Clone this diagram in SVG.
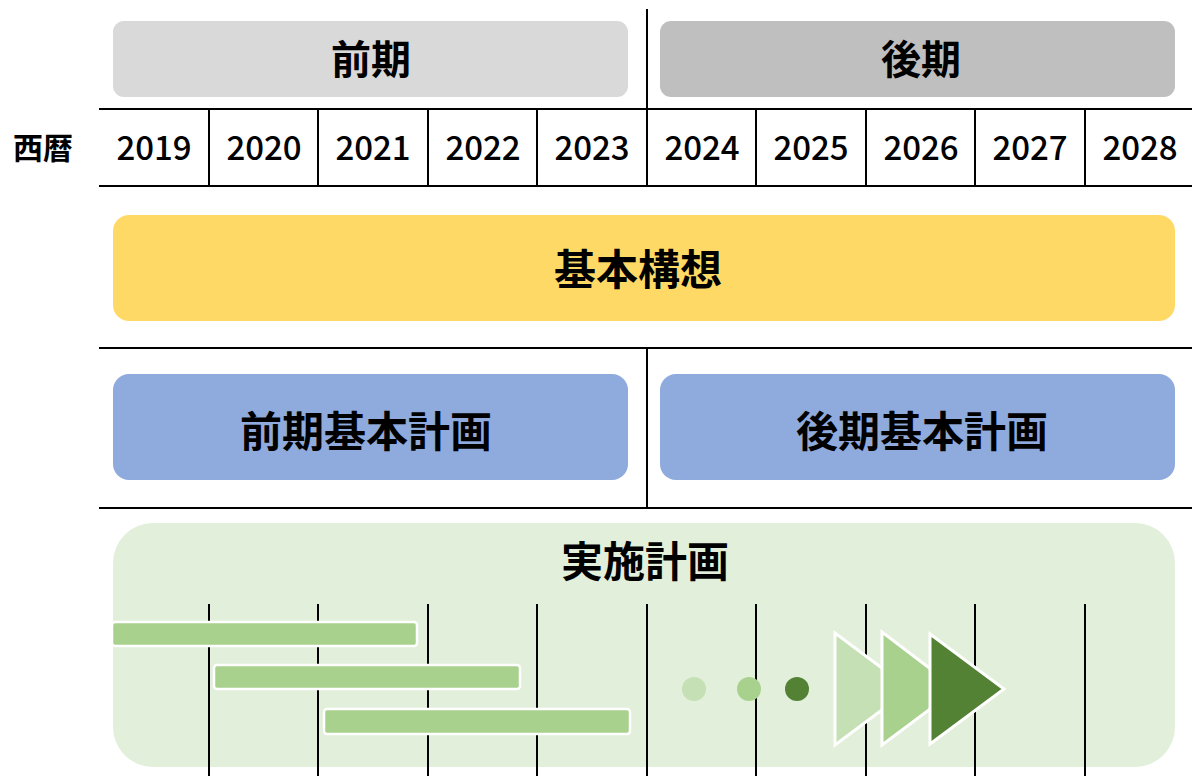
<svg xmlns="http://www.w3.org/2000/svg" width="1192" height="776" viewBox="0 0 1192 776">
<style>
.t{font-family:"Noto Sans CJK JP","Noto Sans",sans-serif;font-weight:bold;fill:#000;text-anchor:middle;dominant-baseline:central}
.y{font-family:"Noto Sans CJK JP","Noto Sans",sans-serif;font-size:33px;font-weight:500;fill:#000;text-anchor:middle;dominant-baseline:central}
.ln{stroke:#000;stroke-width:2;fill:none}
.bar{fill:#a9d18e;stroke:#fff;stroke-width:2.5}
.tri{stroke:#fff;stroke-width:3;stroke-linejoin:miter}
</style>
<rect width="1192" height="776" fill="#fff"/>
<g id="grid" class="ln">
<line x1="99" y1="109" x2="1192" y2="109"/>
<line x1="99" y1="186" x2="1192" y2="186"/>
<line x1="647" y1="9" x2="647" y2="186"/>
<line x1="209" y1="109" x2="209" y2="186"/>
<line x1="318" y1="109" x2="318" y2="186"/>
<line x1="428" y1="109" x2="428" y2="186"/>
<line x1="537" y1="109" x2="537" y2="186"/>
<line x1="756" y1="109" x2="756" y2="186"/>
<line x1="866" y1="109" x2="866" y2="186"/>
<line x1="975" y1="109" x2="975" y2="186"/>
<line x1="1085" y1="109" x2="1085" y2="186"/>
<line x1="99" y1="348" x2="1192" y2="348"/>
<line x1="99" y1="508" x2="1192" y2="508"/>
<line x1="647" y1="348" x2="647" y2="508"/>
</g>
<g id="zenki"><rect x="113" y="21" width="515" height="76" rx="11" fill="#d9d9d9"/><text class="t" x="371" y="57" font-size="40">前期</text></g>
<g id="kouki"><rect x="660" y="21" width="515" height="76" rx="11" fill="#bfbfbf"/><text class="t" x="921" y="57" font-size="40">後期</text></g>
<g id="years">
<text class="t" x="43" y="146" font-size="30">西暦</text>
<text class="y" x="154" y="146">2019</text>
<text class="y" x="264" y="146">2020</text>
<text class="y" x="373" y="146">2021</text>
<text class="y" x="483" y="146">2022</text>
<text class="y" x="592" y="146">2023</text>
<text class="y" x="702" y="146">2024</text>
<text class="y" x="811" y="146">2025</text>
<text class="y" x="921" y="146">2026</text>
<text class="y" x="1030" y="146">2027</text>
<text class="y" x="1140" y="146">2028</text>
</g>
<g id="kihonkousou"><rect x="113" y="215" width="1062" height="106" rx="16" fill="#ffd966"/><text class="t" x="638" y="266" font-size="42">基本構想</text></g>
<g id="zenki-keikaku"><rect x="113" y="374" width="515" height="106" rx="16" fill="#8faadc"/><text class="t" x="366" y="428" font-size="42">前期基本計画</text></g>
<g id="kouki-keikaku"><rect x="660" y="374" width="515" height="106" rx="16" fill="#8faadc"/><text class="t" x="922" y="428" font-size="42">後期基本計画</text></g>
<g id="jisshi">
<rect x="113" y="523" width="1062" height="244" rx="40" fill="#e2efda"/>
<text class="t" x="645" y="558" font-size="42">実施計画</text>
<g class="ln">
<line x1="209" y1="604" x2="209" y2="776"/>
<line x1="318" y1="604" x2="318" y2="776"/>
<line x1="428" y1="604" x2="428" y2="776"/>
<line x1="537" y1="604" x2="537" y2="776"/>
<line x1="647" y1="604" x2="647" y2="776"/>
<line x1="756" y1="604" x2="756" y2="776"/>
<line x1="866" y1="604" x2="866" y2="776"/>
<line x1="975" y1="604" x2="975" y2="776"/>
<line x1="1085" y1="604" x2="1085" y2="776"/>
</g>
<rect class="bar" x="112" y="622" width="305" height="24" rx="3"/>
<rect class="bar" x="214" y="665" width="306" height="24" rx="3"/>
<rect class="bar" x="324" y="709" width="306" height="25" rx="3"/>
<circle cx="694" cy="689" r="12" fill="#c5e0b4"/>
<circle cx="749" cy="689" r="12" fill="#a9d18e"/>
<circle cx="797" cy="689" r="12" fill="#548235"/>
<polygon class="tri" points="835,633 910,689 835,745" fill="#c5e0b4"/>
<polygon class="tri" points="882,632 957,689 882,745" fill="#a9d18e"/>
<polygon class="tri" points="930,634 1004,689 930,744" fill="#548235"/>
</g>
</svg>
